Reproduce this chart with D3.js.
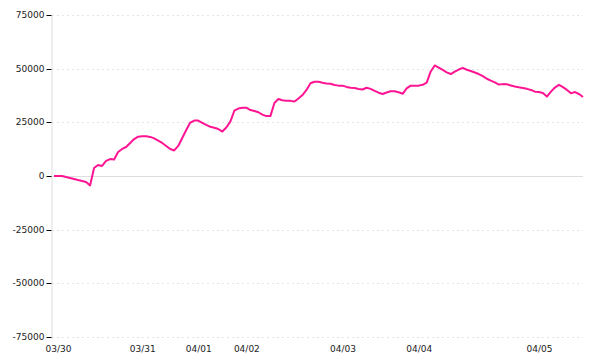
<!DOCTYPE html>
<html>
<head>
<meta charset="utf-8">
<script src="https://cdn.jsdelivr.net/npm/d3@7"></script>
<style>
  body { margin: 0; background: #fff; }
  svg { display: block; }
  .axis text { font-family: "DejaVu Sans", Verdana, sans-serif; font-size: 9px; fill: #222; }
</style>
</head>
<body>
<div id="chart"></div>
<script>
// Day labels and the index of the point where each day starts
const dayLabels = ['03/30', '03/31', '04/01', '04/02', '04/03', '04/04', '04/05'];
const dayStarts = [1, 22, 36, 48, 72, 91, 121];

// Y axis ticks
const yTicks = [-75000, -50000, -25000, 0, 25000, 50000, 75000];

// Cumulative value, one point per step
const values = [
  0, 0, 0, -500, -900, -1400, -1900, -2300, -2800, -4400,
  3700, 5100, 4700, 7000, 7900, 7700, 11200, 12600, 13500, 15400,
  17200, 18300, 18500, 18500, 18200, 17500, 16500, 15400, 14000, 12600,
  11900, 14000, 17700, 21400, 24900, 25800, 25800, 24800, 23800, 22900,
  22500, 21900, 20700, 22600, 25300, 30400, 31400, 31800, 31800, 30700,
  30300, 29700, 28600, 27900, 27900, 34000, 35900, 35300, 35100, 35000,
  34700, 36100, 37700, 40100, 43200, 43900, 43900, 43400, 43100, 43000,
  42400, 42100, 42100, 41500, 41100, 41000, 40500, 40300, 41100, 40600,
  39700, 38800, 38200, 38900, 39500, 39500, 39000, 38300, 40800, 42100,
  42100, 42100, 42500, 43500, 48700, 51500, 50500, 49400, 48300, 47500,
  48600, 49600, 50400, 49500, 48900, 48200, 47500, 46500, 45300, 44400,
  43600, 42600, 42800, 42700, 42200, 41700, 41300, 41000, 40600, 40100,
  39300, 39100, 38700, 37000, 39300, 41200, 42500, 41400, 40100, 38500,
  39100, 38200, 36800
];

const width = 600;
const height = 360;
const margin = { top: 15, right: 17, bottom: 23, left: 54 };

const svg = d3.select('#chart')
  .append('svg')
  .attr('width', width)
  .attr('height', height);

const x = d3.scaleLinear()
  .domain([0, values.length - 1])
  .range([margin.left, width - margin.right]);

const y = d3.scaleLinear()
  .domain([-75000, 75000])
  .range([height - margin.bottom, margin.top]);

// Dashed grid lines
svg.append('g')
  .selectAll('line')
  .data(yTicks.filter(d => d !== 0))
  .join('line')
  .attr('x1', margin.left - 2)
  .attr('x2', width - margin.right)
  .attr('y1', d => Math.round(y(d)) + 0.5)
  .attr('y2', d => Math.round(y(d)) + 0.5)
  .attr('stroke', '#e4e4e4')
  .attr('stroke-dasharray', '2,3');

// Zero line
svg.append('line')
  .attr('x1', margin.left - 2)
  .attr('x2', width - margin.right)
  .attr('y1', Math.round(y(0)) + 0.5)
  .attr('y2', Math.round(y(0)) + 0.5)
  .attr('stroke', '#dddddd');

// Y axis
const yAxis = svg.append('g')
  .attr('class', 'axis')
  .attr('transform', `translate(${margin.left - 2.5},0)`)
  .call(d3.axisLeft(y).tickValues(yTicks).tickSize(5).tickPadding(2).tickFormat(d3.format('d')));
yAxis.select('.domain').attr('stroke', '#dddddd').attr('d', `M0.5,${margin.top}V${height - margin.bottom + 2}`);
yAxis.selectAll('.tick line').attr('stroke', '#000');
yAxis.selectAll('.tick').attr('transform', d => `translate(0,${Math.round(y(d)) + 0.5})`);
yAxis.selectAll('.tick text').text(d => d < 0 ? '-' + Math.abs(d) : d);

// X axis labels (no line, no ticks)
const xAxis = svg.append('g')
  .attr('class', 'axis')
  .attr('transform', `translate(0,${height - margin.bottom})`)
  .call(d3.axisBottom(x).tickValues(dayStarts).tickSize(0).tickPadding(9)
    .tickFormat((d, i) => dayLabels[i]));
xAxis.select('.domain').remove();

// Line
const line = d3.line()
  .x((d, i) => x(i))
  .y(d => y(d));

svg.append('path')
  .datum(values)
  .attr('fill', 'none')
  .attr('stroke', '#ff1493')
  .attr('stroke-width', 2)
  .attr('stroke-linejoin', 'round')
  .attr('d', line);
</script>
</body>
</html>
